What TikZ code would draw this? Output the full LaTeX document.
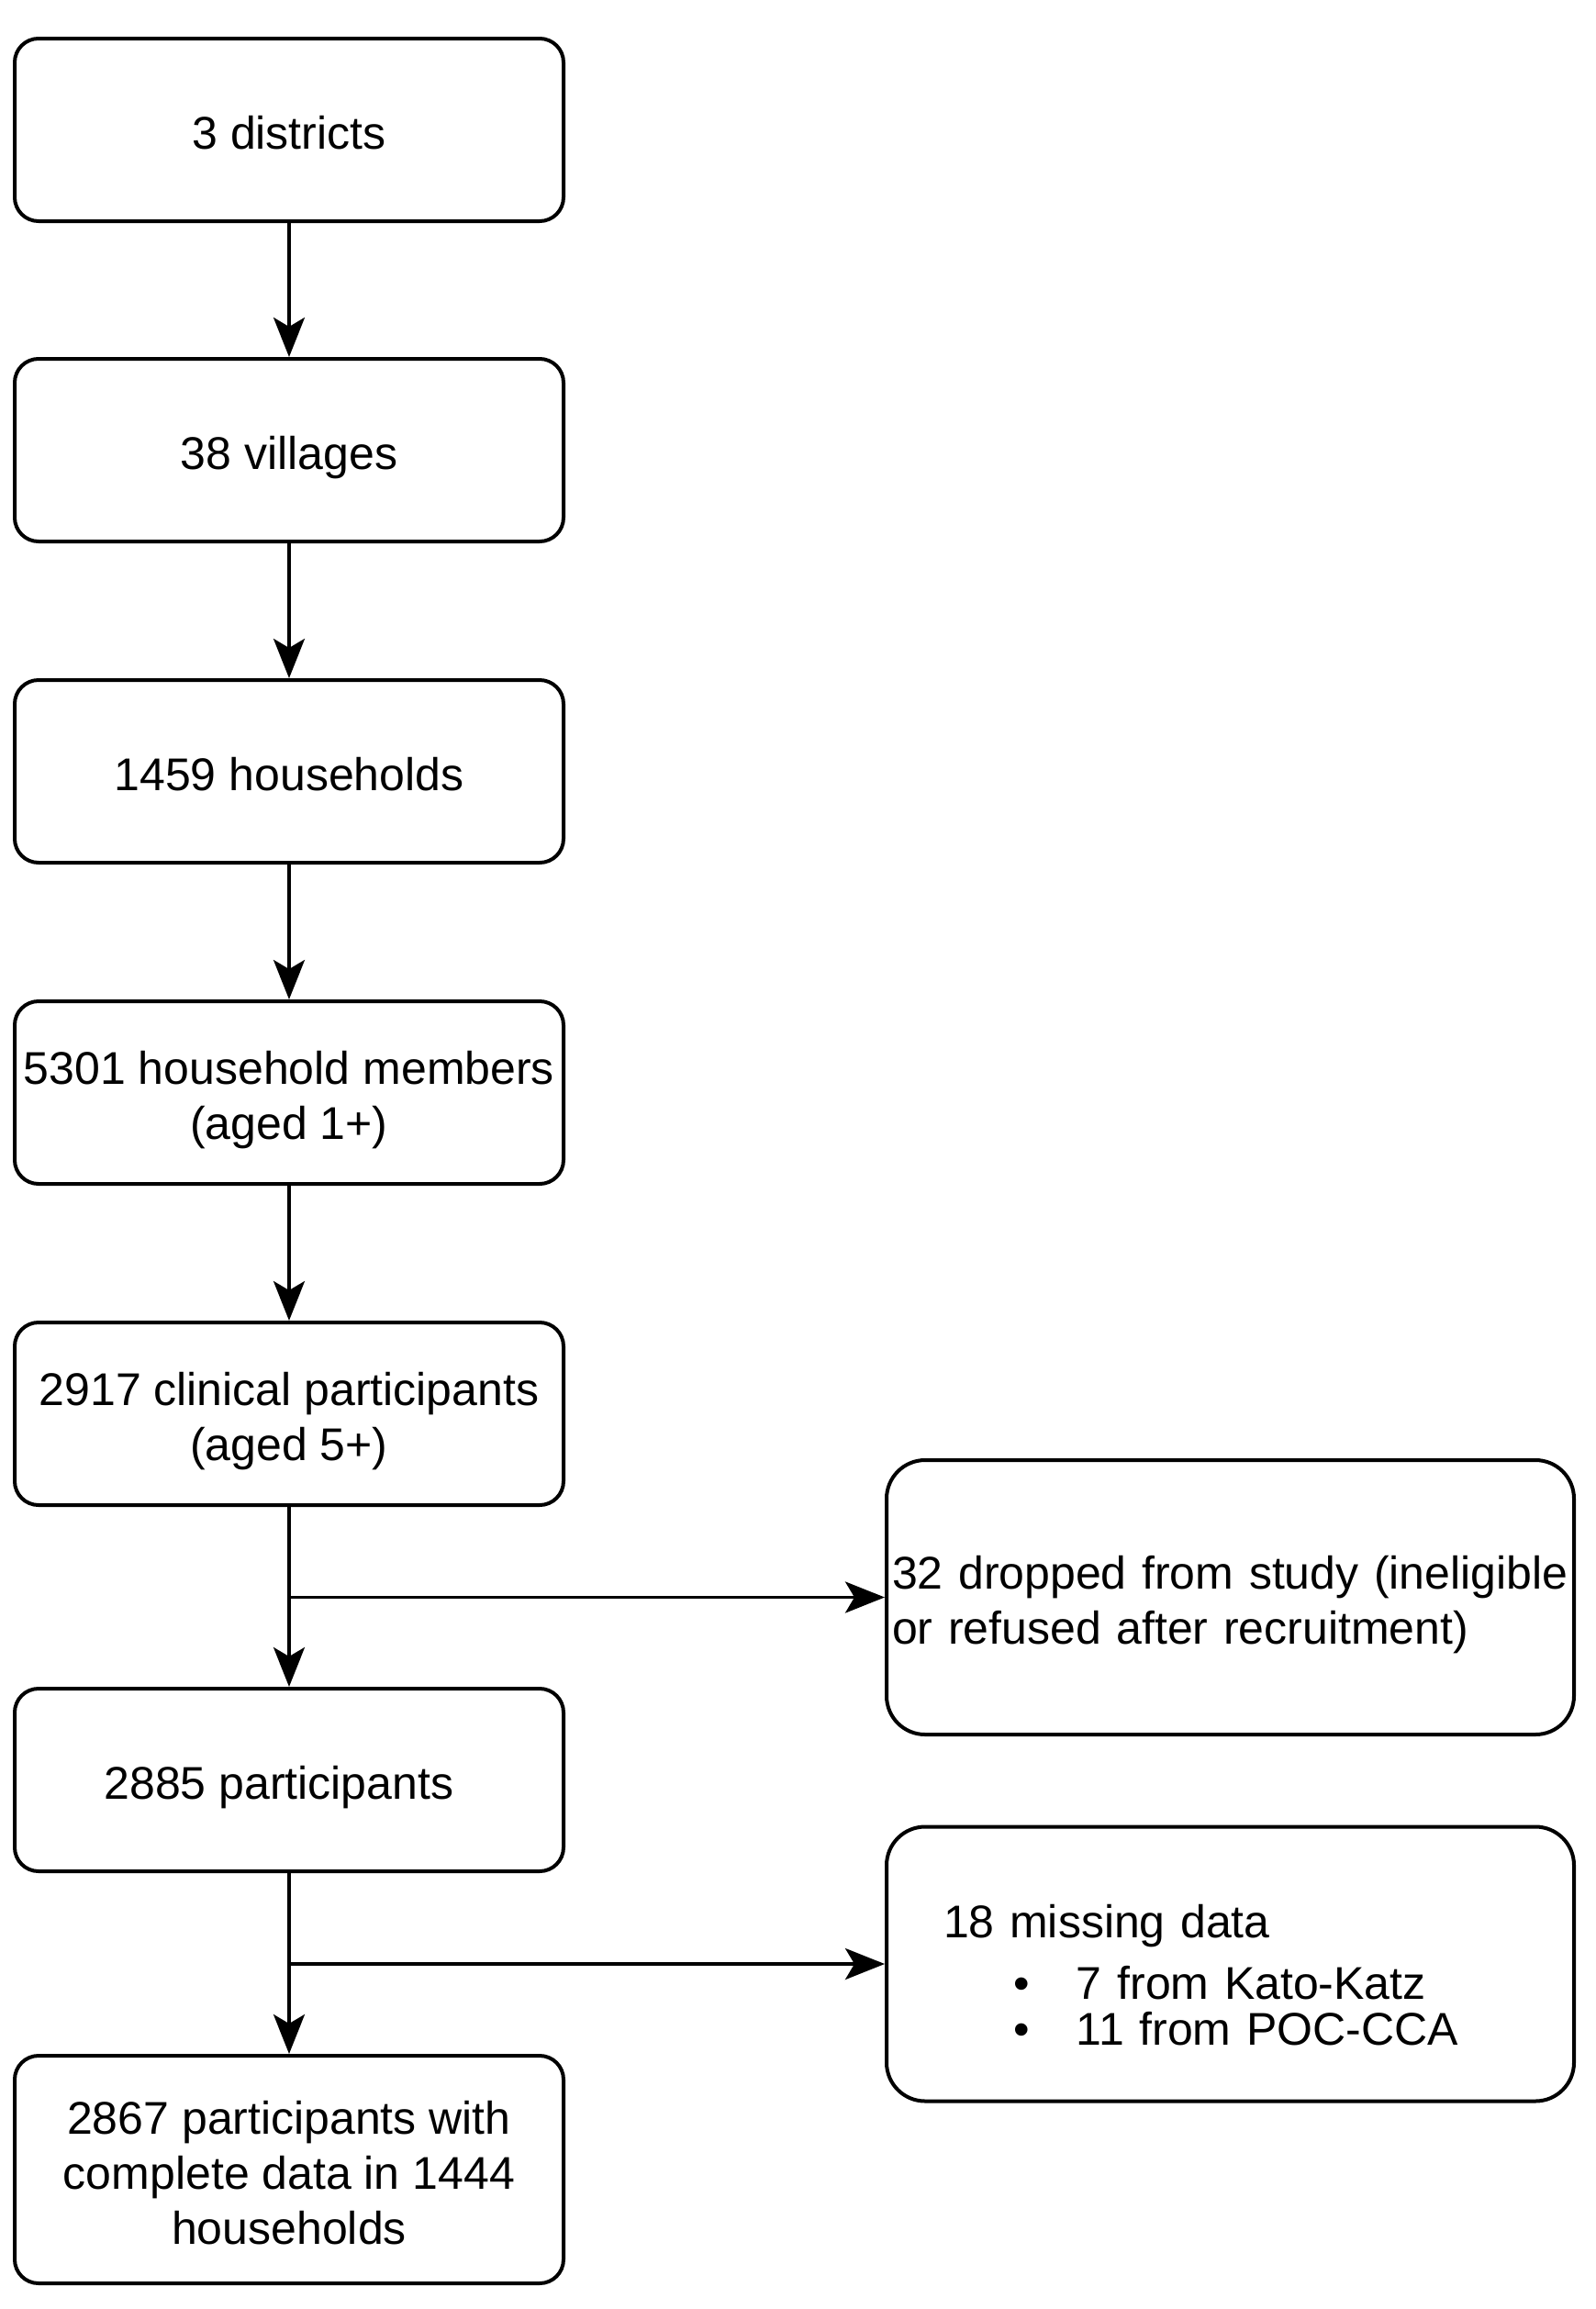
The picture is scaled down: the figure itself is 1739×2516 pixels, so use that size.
\documentclass[tikz,border=0pt]{standalone}
\usepackage{fontspec}
\setmainfont{Liberation Sans}
\usetikzlibrary{arrows.meta}
\newcommand\ctrtext[1]{\raisebox{-4.5pt}[\height][\depth]{\begin{tabular}{@{}c@{}}#1\end{tabular}}}
\newcommand\bigbul{\makebox[34.5pt][l]{•}}
\begin{document}
\begin{tikzpicture}[x=0.5pt,y=-0.5pt,
  box/.style={draw, line width=2pt, rounded corners=13pt, minimum width=299pt,
    minimum height=99.5pt, inner sep=0pt,
    font=\fontsize{25pt}{30pt}\selectfont},
  sidebox/.style={draw, line width=2pt, rounded corners=21pt, minimum height=149.5pt,
    inner xsep=3pt, inner ysep=0pt, text width=368.5pt, align=left,
    font=\fontsize{25pt}{30pt}\selectfont},
  arr/.style={line width=1.8pt, -{Stealth[length=21.5pt,width=17pt,inset=5pt]}}]
\useasboundingbox (0,0) rectangle (1739,2516);

\node[box] (b1) at (315,141.5) {\ctrtext{3 districts}};
\node[box] (b2) at (315,490.5) {\ctrtext{38 villages}};
\node[box] (b3) at (315,840.5) {\ctrtext{1459 households}};
\node[box] (b4) at (315,1190.5) {\ctrtext{5301 household members\\(aged 1+)}};
\node[box] (b5) at (315,1540.5) {\ctrtext{2917 clinical participants\\(aged 5+)}};
\node[box] (b6) at (315,1939.5) {\ctrtext{2885 participants\hspace*{11pt}}};
\node[box, minimum height=124pt] (b7) at (315,2364) {\ctrtext{2867 participants with\\complete data in 1444\\households}};

\node[sidebox] (r1) at (1340.5,1740.5) {\raisebox{-4.5pt}[\height][\depth]{\begin{tabular}{@{}l@{}}32 dropped from study (ineligible\\or refused after recruitment)\end{tabular}}};
\node[sidebox] (r2) at (1340.5,2140) {\raisebox{-9.1pt}[\height][\depth]{\begin{tabular}{@{}l@{}}\hspace*{28pt}18 missing data\\[3.7pt]\hspace*{66pt}\bigbul 7 from Kato-Katz\\[-5pt]\hspace*{66pt}\bigbul 11 from POC-CCA\end{tabular}}};

\draw[arr] (b1) -- (b2);
\draw[arr] (b2) -- (b3);
\draw[arr] (b3) -- (b4);
\draw[arr] (b4) -- (b5);
\draw[arr] (b5) -- (b6);
\draw[arr] (b6) -- (b7);
\coordinate (j1) at (b5.south |- r1.west);
\coordinate (j2) at (b6.south |- r2.west);
\draw[arr] (j1) -- (r1.west);
\draw[arr] (j2) -- (r2.west);
\end{tikzpicture}
\end{document}
